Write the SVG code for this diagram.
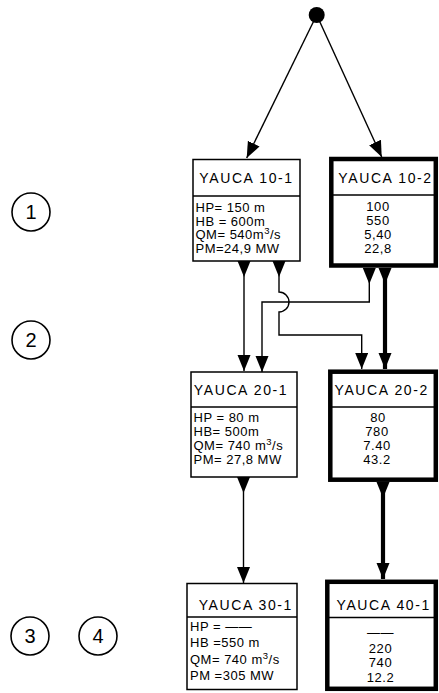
<svg xmlns="http://www.w3.org/2000/svg" width="439" height="693" viewBox="0 0 439 693">
<style>
  .thin { fill: #fff; stroke: #000; stroke-width: 1.5; }
  .thick { fill: #fff; stroke: #000; stroke-width: 4.5; }
  .div { stroke: #000; stroke-width: 1.4; }
  .hd { font-family: "Liberation Sans", Arial, sans-serif; font-size: 14px; letter-spacing: 1.6px; fill: #000; }
  .bd { font-family: "Liberation Sans", Arial, sans-serif; font-size: 13px; letter-spacing: 0.5px; fill: #000; }
  .val { font-family: "Liberation Sans", Arial, sans-serif; font-size: 13px; fill: #000; text-anchor: middle; letter-spacing: 0.6px; }
  .ln { fill: none; stroke: #000; stroke-width: 1.4; }
  .lnk { fill: none; stroke: #000; stroke-width: 4.2; }
  .circ { fill: none; stroke: #000; stroke-width: 1.6; }
  .num { font-family: "Liberation Sans", Arial, sans-serif; font-size: 20px; text-anchor: middle; fill: #000; }
</style>
<defs>
  <marker id="arrE" markerUnits="userSpaceOnUse" markerWidth="18" markerHeight="14" refX="16" refY="6.5" orient="auto">
    <path d="M0,0 L16,6.5 L0,13 Z" fill="#000"/>
  </marker>
  <marker id="arrS" markerUnits="userSpaceOnUse" markerWidth="18" markerHeight="14" refX="0" refY="6.5" orient="auto">
    <path d="M0,0 L16,6.5 L0,13 Z" fill="#000"/>
  </marker>
</defs>
<rect width="439" height="693" fill="#fff"/>

<g id="connectors">
  <path class="ln" d="M316.7,15 L246.7,158" marker-end="url(#arrE)"/>
  <path class="ln" d="M316.7,15 L381.7,157" marker-end="url(#arrE)"/>
  <path class="ln" d="M244,261 V371" marker-start="url(#arrS)" marker-end="url(#arrE)"/>
  <path class="ln" d="M279,261 V292 A10,10 0 0 1 279,312 V335 H361.7 V369" marker-start="url(#arrS)" marker-end="url(#arrE)"/>
  <path class="ln" d="M369.3,268 V302 H262 V372" marker-start="url(#arrS)" marker-end="url(#arrE)"/>
  <path class="lnk" d="M385,268 V369" marker-start="url(#arrS)" marker-end="url(#arrE)"/>
  <path class="ln" d="M243.5,477 V583" marker-start="url(#arrS)" marker-end="url(#arrE)"/>
  <path class="lnk" d="M383,482 V579" marker-start="url(#arrS)" marker-end="url(#arrE)"/>
</g>

<g id="source">
  <circle cx="316.7" cy="15" r="8" fill="#000"/>
</g>

<g id="yauca-10-1">
  <rect class="thin" x="193" y="159.5" width="107" height="101.5"/>
  <line class="div" x1="193" y1="196" x2="300" y2="196"/>
  <text class="hd" x="246.5" y="183" text-anchor="middle">YAUCA 10-1</text>
  <text class="bd" x="195.5" y="211.5">HP= 150 m</text>
  <text class="bd" x="195.5" y="225.5">HB = 600m</text>
  <text class="bd" x="195.5" y="239">QM= 540m<tspan font-size="9.5" dy="-5">3</tspan><tspan dy="5">/s</tspan></text>
  <text class="bd" x="195.5" y="252.5">PM=24,9 MW</text>
</g>

<g id="yauca-10-2">
  <rect class="thick" x="331.3" y="159" width="104.5" height="106.5"/>
  <line class="div" x1="331" y1="195" x2="436" y2="195"/>
  <text class="hd" x="385.5" y="183" text-anchor="middle">YAUCA 10-2</text>
  <text class="val" x="378" y="211">100</text>
  <text class="val" x="378" y="225">550</text>
  <text class="val" x="378" y="239">5,40</text>
  <text class="val" x="378" y="252.5">22,8</text>
</g>

<g id="yauca-20-1">
  <rect class="thin" x="191" y="372" width="106" height="105"/>
  <line class="div" x1="191" y1="407" x2="297" y2="407"/>
  <text class="hd" x="241" y="395" text-anchor="middle">YAUCA  20-1</text>
  <text class="bd" x="193.5" y="421.5">HP = 80 m</text>
  <text class="bd" x="193.5" y="435.5">HB= 500m</text>
  <text class="bd" x="193.5" y="449.5">QM= 740 m<tspan font-size="9.5" dy="-5">3</tspan><tspan dy="5">/s</tspan></text>
  <text class="bd" x="193.5" y="463.5">PM= 27,8 MW</text>
</g>

<g id="yauca-20-2">
  <rect class="thick" x="330.3" y="371.7" width="105.5" height="108"/>
  <line class="div" x1="330" y1="407" x2="436" y2="407"/>
  <text class="hd" x="381.7" y="395" text-anchor="middle">YAUCA  20-2</text>
  <text class="val" x="378" y="421.5">80</text>
  <text class="val" x="377" y="435.5">780</text>
  <text class="val" x="377" y="449.5">7.40</text>
  <text class="val" x="377" y="463.5">43.2</text>
</g>

<g id="yauca-30-1">
  <rect class="thin" x="187" y="583.5" width="110" height="106" stroke-width="2"/>
  <line class="div" x1="187" y1="617" x2="297" y2="617"/>
  <text class="hd" x="245.8" y="610" text-anchor="middle" letter-spacing="2.2">YAUCA  30-1</text>
  <text class="bd" x="190" y="631">HP = ——</text>
  <text class="bd" x="190" y="647">HB =550 m</text>
  <text class="bd" x="190" y="664">QM= 740 m<tspan font-size="9.5" dy="-5">3</tspan><tspan dy="5">/s</tspan></text>
  <text class="bd" x="190" y="679.5">PM =305 MW</text>
</g>

<g id="yauca-40-1">
  <rect class="thick" x="327.3" y="581.8" width="108.5" height="107"/>
  <line class="div" x1="327" y1="617.5" x2="436" y2="617.5"/>
  <text class="hd" x="383.7" y="610" text-anchor="middle">YAUCA 40-1</text>
  <text class="val" x="380.5" y="637">——</text>
  <text class="val" x="380.5" y="653.3">220</text>
  <text class="val" x="380.5" y="667.3">740</text>
  <text class="val" x="380.5" y="681.7">12.2</text>
</g>

<g id="label-1">
  <circle class="circ" cx="31" cy="212" r="19"/>
  <text class="num" x="31" y="219">1</text>
</g>
<g id="label-2">
  <circle class="circ" cx="31" cy="340" r="19"/>
  <text class="num" x="31" y="347">2</text>
</g>
<g id="label-3">
  <circle class="circ" cx="30" cy="636" r="19"/>
  <text class="num" x="30" y="643">3</text>
</g>
<g id="label-4">
  <circle class="circ" cx="98" cy="636" r="19"/>
  <text class="num" x="98" y="643">4</text>
</g>
</svg>
